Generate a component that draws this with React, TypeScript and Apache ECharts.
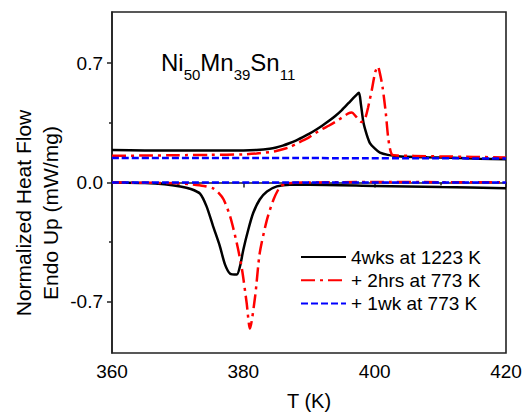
import React, { useEffect, useRef } from "react";
import * as echarts from "echarts";

const FONT = "'Liberation Sans', Arial, Helvetica, sans-serif";

const xTicks = [360, 380, 400, 420];
const yTickLabels = [-0.7, 0, 0.7];
const yMinorTicks = [-0.35, 0.35];
const seriesNames = ["4wks at 1223 K", "+ 2hrs at 773 K", "+ 1wk at 773 K"];

// 4wks at 1223 K — heating (upper) curve
const blackHeatT = [360, 365, 370, 375, 380, 382, 384, 385, 386, 387, 388, 389, 390, 391, 392, 393, 394, 395, 396, 397, 397.6, 397.9, 398.3, 398.8, 399.3, 400, 400.8, 402, 404, 408, 412, 416, 420];
const blackHeatV = [0.19, 0.188, 0.187, 0.187, 0.188, 0.191, 0.198, 0.205, 0.216, 0.23, 0.246, 0.265, 0.285, 0.308, 0.333, 0.36, 0.39, 0.425, 0.465, 0.505, 0.526, 0.46, 0.35, 0.28, 0.23, 0.2, 0.175, 0.162, 0.153, 0.148, 0.145, 0.14, 0.136];
// 4wks at 1223 K — cooling (lower) curve
const blackCoolT = [360, 365, 368, 370.4, 372, 373.4, 374.4, 375.4, 376.4, 377.2, 378, 379, 379.5, 380, 380.75, 381.5, 382.5, 383.6, 385.1, 387.1, 390, 400, 410, 420];
const blackCoolV = [0, -0.003, -0.01, -0.023, -0.038, -0.065, -0.14, -0.257, -0.37, -0.48, -0.535, -0.54, -0.49, -0.394, -0.277, -0.179, -0.1, -0.053, -0.023, -0.013, -0.013, -0.02, -0.027, -0.033];

// + 2hrs at 773 K — heating (upper) curve
const redHeatT = [360, 365, 370, 375, 380, 382, 384, 385, 386, 387, 388, 389, 390, 391, 392, 393, 394, 395, 396, 396.5, 397.2, 398, 398.5, 399, 399.6, 400.1, 400.5, 400.8, 401.2, 401.7, 402.1, 402.6, 403.5, 406, 410, 415, 420];
const redHeatV = [0.157, 0.158, 0.16, 0.162, 0.165, 0.17, 0.178, 0.185, 0.195, 0.207, 0.225, 0.245, 0.265, 0.29, 0.313, 0.333, 0.355, 0.38, 0.405, 0.41, 0.385, 0.355, 0.37, 0.44, 0.55, 0.65, 0.68, 0.64, 0.56, 0.405, 0.25, 0.165, 0.158, 0.156, 0.153, 0.15, 0.147];
// + 2hrs at 773 K — cooling (lower) curve
const redCoolT = [360, 366, 370, 372, 374, 375.4, 376.2, 377, 378, 379, 379.8, 380.5, 381, 381.8, 382.5, 383.6, 384.6, 385.6, 386.6, 390, 400, 410, 420];
const redCoolV = [0, -0.002, -0.005, -0.01, -0.02, -0.035, -0.06, -0.1, -0.2, -0.355, -0.51, -0.705, -0.857, -0.667, -0.413, -0.218, -0.1, -0.025, -0.006, 0, 0.003, 0.002, 0.001];

// + 1wk at 773 K
const blueHeatT = [360, 390, 420];
const blueHeatV = [0.143, 0.143, 0.141];
const blueCoolT = [360, 390, 420];
const blueCoolV = [0, 0, 0];

const pairs = (t: number[], v: number[]) => t.map((x, i) => [x, v[i]]);

export default function App() {
  const ref = useRef<HTMLDivElement>(null);

  useEffect(() => {
    if (!ref.current) return;
    const chart = echarts.init(ref.current, undefined, { renderer: "svg" });

    const colors = ["#000000", "#ff0000", "#0000ff"];
    const lineTypes: any[] = ["solid", [14, 5, 3, 5], [7, 3]];
    const curveSets = [
      [pairs(blackHeatT, blackHeatV), pairs(blackCoolT, blackCoolV)],
      [pairs(redHeatT, redHeatV), pairs(redCoolT, redCoolV)],
      [pairs(blueHeatT, blueHeatV), pairs(blueCoolT, blueCoolV)],
    ];

    const series: any[] = [];
    curveSets.forEach((set, i) => {
      set.forEach((data) => {
        series.push({
          name: seriesNames[i],
          type: "line",
          data,
          symbol: "none",
          smooth: 0.25,
          xAxisIndex: 0,
          yAxisIndex: 0,
          lineStyle: { color: colors[i], width: 2.5, type: lineTypes[i] },
          itemStyle: { color: colors[i] },
        });
      });
    });

    const axisColor = "#222";

    chart.setOption({
      animation: false,
      backgroundColor: "#ffffff",
      textStyle: { fontFamily: FONT },
      grid: {
        left: 112,
        right: 21,
        top: 12,
        bottom: 61,
        containLabel: false,
        outerBoundsMode: "none",
        show: true,
        borderColor: axisColor,
        borderWidth: 1.6,
        backgroundColor: "transparent",
      },
      xAxis: [
        {
          type: "value",
          min: xTicks[0],
          max: xTicks[xTicks.length - 1],
          interval: xTicks[1] - xTicks[0],
          name: "T (K)",
          nameLocation: "middle",
          nameGap: 37,
          nameTextStyle: { fontSize: 20, color: "#000", fontFamily: FONT, lineHeight: 21 },
          axisLine: { show: true, lineStyle: { color: axisColor, width: 1.6 } },
          axisTick: { show: true, inside: false, length: 5, lineStyle: { color: axisColor, width: 1.5 } },
          minorTick: { show: true, splitNumber: 2, length: 3, lineStyle: { color: axisColor, width: 1.5 } },
          axisLabel: { fontSize: 19, color: "#000", margin: 9, fontFamily: FONT },
          splitLine: { show: false },
          minorSplitLine: { show: false },
        },
      ],
      yAxis: [
        {
          type: "value",
          min: -1,
          max: 1,
          position: "left",
          axisLine: { show: true, lineStyle: { color: axisColor, width: 1.6 } },
          axisTick: { show: true, inside: false, length: 5, customValues: yTickLabels, lineStyle: { color: axisColor, width: 1.5 } },
          axisLabel: {
            fontSize: 19,
            color: "#000",
            margin: 9,
            fontFamily: FONT,
            customValues: yTickLabels,
            formatter: (v: number) => v.toFixed(1),
          },
          splitLine: { show: false },
        },
        {
          type: "value",
          min: -1,
          max: 1,
          position: "left",
          axisLine: { show: false },
          axisTick: { show: true, inside: false, length: 3, customValues: yMinorTicks, lineStyle: { color: axisColor, width: 1.5 } },
          axisLabel: { show: false },
          splitLine: { show: false },
        },
      ],
      legend: {
        orient: "vertical",
        left: 300,
        top: 247,
        padding: 0,
        itemWidth: 45,
        itemHeight: 14,
        itemGap: 3.3,
        data: seriesNames,
        itemStyle: { color: "transparent", borderColor: "transparent", borderWidth: 0, opacity: 0 },
        textStyle: { fontSize: 19, color: "#000", fontFamily: FONT, lineHeight: 20 },
      },
      graphic: [
        {
          type: "text",
          left: 161,
          top: 50,
          style: {
            text: "{m|Ni}{s|50}{m|Mn}{s|39}{m|Sn}{s|11}",
            fill: "#000",
            rich: {
              m: { fontSize: 24, padding: [0, 0, 8, 0], verticalAlign: "bottom", fontFamily: FONT, fill: "#000" },
              s: { fontSize: 15, verticalAlign: "bottom", fontFamily: FONT, fill: "#000" },
            },
          },
        },
        {
          type: "text",
          x: 36.5,
          y: 213,
          rotation: Math.PI / 2,
          style: {
            text: "Normalized Heat Flow\nEndo Up (mW/mg)",
            fontSize: 21,
            lineHeight: 27,
            fontFamily: FONT,
            fill: "#000",
            textAlign: "center",
            textVerticalAlign: "middle",
          },
        },
      ],
      series,
    });

    return () => chart.dispose();
  }, []);

  return (
    <div
      ref={ref}
      style={{ position: "fixed", left: 0, top: 0, width: 527, height: 414, background: "#fff" }}
    />
  );
}
